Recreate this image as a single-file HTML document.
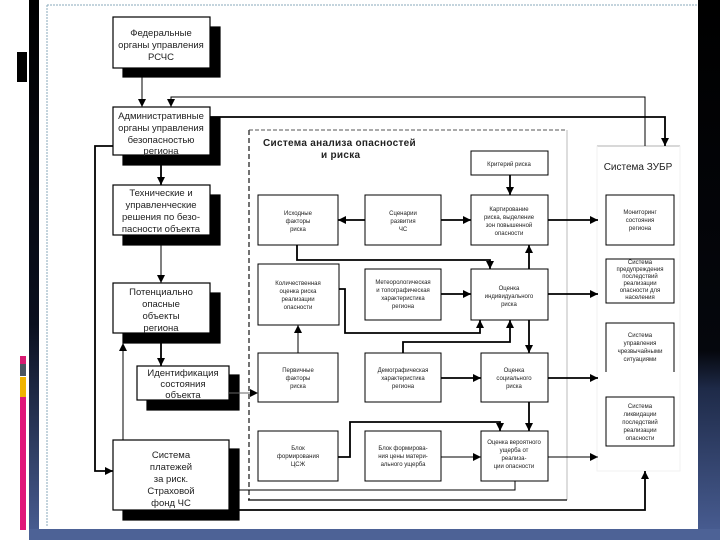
<!DOCTYPE html>
<html><head><meta charset="utf-8"><style>
html,body{margin:0;padding:0;width:720px;height:540px;overflow:hidden;background:#fff}
svg{display:block}
text{font-family:"Liberation Sans",sans-serif;fill:#222}
</style></head><body>
<svg width="720" height="540" viewBox="0 0 720 540" xmlns="http://www.w3.org/2000/svg">
<defs>
<linearGradient id="lb" x1="0" y1="0" x2="0" y2="1"><stop offset="0" stop-color="#000"/><stop offset="0.6" stop-color="#0a0f1e"/><stop offset="1" stop-color="#4a5f95"/></linearGradient>
<linearGradient id="rb" x1="0" y1="0" x2="0" y2="1"><stop offset="0" stop-color="#000"/><stop offset="0.65" stop-color="#05070d"/><stop offset="0.72" stop-color="#1e2a48"/><stop offset="1" stop-color="#4a5f95"/></linearGradient>
<marker id="a" viewBox="0 0 10 10" refX="10" refY="5" markerUnits="userSpaceOnUse" markerWidth="9" markerHeight="8" orient="auto"><path d="M0,0L10,5L0,10z" fill="#000"/></marker>
</defs>
<rect x="29" y="0" width="10" height="540" fill="url(#lb)"/>
<rect x="698" y="0" width="22" height="540" fill="url(#rb)"/>
<rect x="29" y="529" width="691" height="11" fill="#4d6296"/>
<rect x="17" y="52" width="10" height="30" fill="#000"/>
<rect x="20" y="356" width="6" height="8" fill="#d81b72"/>
<rect x="20" y="364" width="6" height="12" fill="#4a5560"/>
<rect x="20" y="377" width="6" height="20" fill="#f0b400"/>
<rect x="20" y="397" width="6" height="133" fill="#e0177a"/>
<line x1="47" y1="5" x2="697" y2="5" stroke="#8ab" stroke-width="1" stroke-dasharray="2,1"/>
<line x1="47" y1="5" x2="47" y2="527" stroke="#8ab" stroke-width="1" stroke-dasharray="2,1"/>

<g stroke="#000" stroke-width="1.2">
<rect x="123" y="27" width="97" height="50" fill="#000"/><rect x="113" y="17" width="97" height="51" fill="#fff"/>
<rect x="123" y="117" width="97" height="48" fill="#000"/><rect x="113" y="107" width="97" height="48" fill="#fff"/>
<rect x="123" y="195" width="97" height="50" fill="#000"/><rect x="113" y="185" width="97" height="50" fill="#fff"/>
<rect x="123" y="293" width="97" height="50" fill="#000"/><rect x="113" y="283" width="97" height="50" fill="#fff"/>
<rect x="147" y="375" width="92" height="35" fill="#000"/><rect x="137" y="366" width="92" height="34" fill="#fff"/>
<rect x="123" y="449" width="116" height="71" fill="#000"/><rect x="113" y="440" width="116" height="70" fill="#fff"/>
</g>
<g font-size="9.5" text-anchor="middle">
<text x="161" y="36">Федеральные</text><text x="161" y="48">органы управления</text><text x="161" y="60">РСЧС</text>
<text x="161" y="119">Административные</text><text x="161" y="131">органы управления</text><text x="161" y="143">безопасностью</text><text x="161" y="154">региона</text>
<text x="161" y="196">Технические и</text><text x="161" y="208">управленческие</text><text x="161" y="220">решения по безо-</text><text x="161" y="232">пасности объекта</text>
<text x="161" y="295">Потенциально</text><text x="161" y="307">опасные</text><text x="161" y="319">объекты</text><text x="161" y="331">региона</text>
<text x="183" y="376">Идентификация</text><text x="183" y="387">состояния</text><text x="183" y="398">объекта</text>
<text x="171" y="458">Система</text><text x="171" y="470">платежей</text><text x="171" y="482">за риск.</text><text x="171" y="494">Страховой</text><text x="171" y="506">фонд ЧС</text>
</g>

<line x1="249" y1="130" x2="567" y2="130" stroke="#555" stroke-dasharray="4,2"/>
<line x1="249" y1="130" x2="249" y2="500" stroke="#444" stroke-width="1.5" stroke-dasharray="5,3"/>
<line x1="567" y1="130" x2="567" y2="500" stroke="#bbb"/>
<line x1="248" y1="500" x2="567" y2="500" stroke="#000" stroke-width="1.2"/>
<text x="263" y="146" font-size="10" font-weight="bold" letter-spacing="0.3">Система анализа опасностей</text>
<text x="321" y="158" font-size="10" font-weight="bold" letter-spacing="0.3">и риска</text>

<g fill="#fff" stroke="#000" stroke-width="1">
<rect x="471" y="151" width="77" height="24"/>
<rect x="258" y="195" width="80" height="50"/><rect x="365" y="195" width="76" height="50"/><rect x="471" y="195" width="77" height="50"/>
<rect x="258" y="264" width="81" height="61"/><rect x="365" y="269" width="76" height="51"/><rect x="471" y="269" width="77" height="51"/>
<rect x="258" y="353" width="80" height="49"/><rect x="365" y="353" width="76" height="49"/><rect x="481" y="353" width="67" height="49"/>
<rect x="258" y="431" width="80" height="50"/><rect x="365" y="431" width="76" height="50"/><rect x="481" y="431" width="67" height="50"/>
</g>
<g font-size="6" text-anchor="middle">
<text x="509" y="166">Критерий риска</text>
<text x="298" y="215">Исходные</text><text x="298" y="223">факторы</text><text x="298" y="231">риска</text>
<text x="403" y="215">Сценарии</text><text x="403" y="223">развития</text><text x="403" y="231">ЧС</text>
<text x="509" y="211">Картирование</text><text x="509" y="219">риска, выделение</text><text x="509" y="227">зон повышенной</text><text x="509" y="235">опасности</text>
<text x="298" y="285">Количественная</text><text x="298" y="293">оценка риска</text><text x="298" y="301">реализации</text><text x="298" y="309">опасности</text>
<text x="403" y="284">Метеорологическая</text><text x="403" y="292">и топографическая</text><text x="403" y="300">характеристика</text><text x="403" y="308">региона</text>
<text x="509" y="290">Оценка</text><text x="509" y="298">индивидуального</text><text x="509" y="306">риска</text>
<text x="298" y="372">Первичные</text><text x="298" y="380">факторы</text><text x="298" y="388">риска</text>
<text x="403" y="372">Демографическая</text><text x="403" y="380">характеристика</text><text x="403" y="388">региона</text>
<text x="514" y="372">Оценка</text><text x="514" y="380">социального</text><text x="514" y="388">риска</text>
<text x="298" y="450">Блок</text><text x="298" y="458">формирования</text><text x="298" y="466">ЦСЖ</text>
<text x="403" y="450">Блок формирова-</text><text x="403" y="458">ния цены матери-</text><text x="403" y="466">ального ущерба</text>
<text x="514" y="444">Оценка вероятного</text><text x="514" y="452">ущерба от</text><text x="514" y="460">реализа-</text><text x="514" y="468">ции опасности</text>
</g>

<line x1="597" y1="146" x2="680" y2="146" stroke="#000" stroke-width="1.2"/>
<rect x="597" y="146" width="83" height="325" fill="none" stroke="#f2f2f2"/>
<text x="638" y="170" font-size="10" text-anchor="middle" fill="#333">Система ЗУБР</text>
<g fill="#fff" stroke="#000" stroke-width="1">
<rect x="606" y="195" width="68" height="50"/><rect x="606" y="259" width="68" height="44"/>
<path d="M606,372V323H674V372" fill="#fff"/><rect x="606" y="397" width="68" height="49"/>
</g>
<g font-size="6" text-anchor="middle">
<text x="640" y="214">Мониторинг</text><text x="640" y="222">состояния</text><text x="640" y="230">региона</text>
<text x="640" y="264">Система</text><text x="640" y="271">предупреждения</text><text x="640" y="278">последствий</text><text x="640" y="285">реализации</text><text x="640" y="292">опасности для</text><text x="640" y="299">населения</text>
<text x="640" y="337">Система</text><text x="640" y="345">управления</text><text x="640" y="353">чрезвычайными</text><text x="640" y="361">ситуациями</text>
<text x="640" y="408">Система</text><text x="640" y="416">ликвидации</text><text x="640" y="424">последствий</text><text x="640" y="432">реализации</text><text x="640" y="440">опасности</text>
</g>

<g fill="none" stroke="#000" stroke-width="1.8" marker-end="url(#a)">
<path d="M142,68V107" stroke-width="1"/>
<path d="M645,146V97H171V107" stroke-width="1"/>
<path d="M210,117H665V146"/>
<path d="M161,155V185"/>
<path d="M113,146H95V471H113"/>
<path d="M161,235V283" stroke-width="1"/>
<path d="M161,333V366"/>
<path d="M123,440V343" stroke-width="1"/>
<path d="M229,393H258" stroke="#666" stroke-width="1"/>
<path d="M365,220H338"/>
<path d="M441,220H471"/>
<path d="M548,220H598"/>
<path d="M510,175V195"/>
<path d="M297,245V260H490V269"/>
<path d="M529,269V245"/>
<path d="M339,289H345V333H480V320"/>
<path d="M441,294H471"/>
<path d="M403,353V342H510V320"/>
<path d="M298,353V325" stroke-width="1"/>
<path d="M548,294H598"/>
<path d="M529,320V353"/>
<path d="M441,378H481"/>
<path d="M548,378H598"/>
<path d="M529,402V431"/>
<path d="M338,457H350V422H500V431"/>
<path d="M441,457H481" stroke-width="1"/>
<path d="M548,457H598" stroke-width="1"/>
<path d="M515,481V490H229" stroke-width="1"/>
<path d="M239,510H645V471"/>
</g>
</svg>
</body></html>
